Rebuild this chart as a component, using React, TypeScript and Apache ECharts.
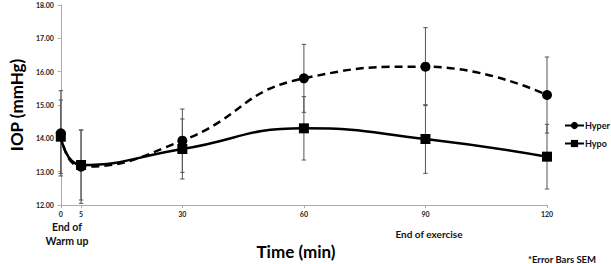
import React, { useEffect, useRef } from "react";
import * as echarts from "echarts";

const times = [0, 5, 30, 60, 90, 120];
const hyperMean = [14.15, 13.15, 13.93, 15.8, 16.15, 15.3];
const hypoMean = [14.05, 13.2, 13.68, 14.3, 13.98, 13.45];
const hyperSem = [1.28, 1.1, 0.95, 1.02, 1.17, 1.14];
const hypoSem = [1.1, 1.05, 0.9, 0.95, 1.03, 0.97];
const xTickValues = [0, 5, 30, 60, 90, 120];

const FONT = "Lato, 'Open Sans', sans-serif";

export default function App() {
  const ref = useRef<HTMLDivElement>(null);
  useEffect(() => {
    if (!ref.current) return;
    const chart = echarts.init(ref.current, null, { renderer: "svg" });
    const errData: number[][] = [];
    times.forEach((t, i) => {
      errData.push([t, hyperMean[i] - hyperSem[i], hyperMean[i] + hyperSem[i]]);
      errData.push([t, hypoMean[i] - hypoSem[i], hypoMean[i] + hypoSem[i]]);
    });
    const renderErr = (params: any, api: any) => {
      const x = api.value(0);
      const lo = api.coord([x, api.value(1)]);
      const hi = api.coord([x, api.value(2)]);
      const w = 2.2;
      const style = { stroke: "#555", lineWidth: 1 };
      return {
        type: "group",
        children: [
          { type: "line", shape: { x1: lo[0], y1: lo[1], x2: hi[0], y2: hi[1] }, style },
          { type: "line", shape: { x1: lo[0] - w, y1: lo[1], x2: lo[0] + w, y2: lo[1] }, style },
          { type: "line", shape: { x1: hi[0] - w, y1: hi[1], x2: hi[0] + w, y2: hi[1] }, style },
        ],
      };
    };
    chart.setOption({
      animation: false,
      backgroundColor: "#fff",
      grid: { left: 45, right: 64, top: 5, bottom: 59 },
      legend: {
        data: ["Hyper", "Hypo"],
        orient: "vertical",
        left: 564,
        top: 121,
        padding: 0,
        itemWidth: 19,
        itemHeight: 9,
        itemGap: 9,
        textStyle: { fontFamily: FONT, fontWeight: "bold", fontSize: 9, color: "#111", padding: [0, 0, 0, -4] },
      },
      xAxis: {
        type: "value",
        min: 0,
        max: 120,
        interval: 5,
        axisLine: { lineStyle: { color: "#aaa", width: 1 } },
        axisTick: { customValues: xTickValues, length: 3, lineStyle: { color: "#aaa" } },
        axisLabel: {
          customValues: xTickValues,
          fontFamily: FONT,
          fontWeight: "bold",
          fontSize: 7,
          color: "#222",
          margin: 5,
        },
        splitLine: { show: false },
      },
      yAxis: {
        type: "value",
        min: 12,
        max: 18,
        interval: 1,
        name: "IOP (mmHg)",
        nameLocation: "middle",
        nameRotate: 90,
        nameGap: 29,
        nameTextStyle: { fontFamily: FONT, fontWeight: "bold", fontSize: 17, color: "#000" },
        axisLine: { show: true, lineStyle: { color: "#aaa", width: 1 } },
        axisTick: { show: true, length: 3, lineStyle: { color: "#aaa" } },
        axisLabel: {
          fontFamily: FONT,
          fontWeight: "bold",
          fontSize: 7,
          color: "#222",
          margin: 7,
          formatter: (v: number) => v.toFixed(2),
        },
        splitLine: { show: false },
      },
      series: [
        {
          name: "err",
          type: "custom",
          renderItem: renderErr,
          data: errData,
          encode: { x: 0, y: [1, 2] },
          z: 1,
          silent: true,
        },
        {
          name: "Hyper",
          type: "line",
          smooth: 0.5,
          data: times.map((t, i) => [t, hyperMean[i]]),
          symbol: "circle",
          symbolSize: 10,
          itemStyle: { color: "#000" },
          lineStyle: { color: "#000", width: 2.5, type: [8, 5] },
          z: 3,
        },
        {
          name: "Hypo",
          type: "line",
          smooth: 0.5,
          data: times.map((t, i) => [t, hypoMean[i]]),
          symbol: "rect",
          symbolSize: 10,
          itemStyle: { color: "#000" },
          lineStyle: { color: "#000", width: 2.5 },
          z: 3,
        },
      ],
      graphic: [
        {
          type: "text",
          x: 67,
          y: 220,
          style: {
            text: "End of\nWarm up",
            fontFamily: FONT,
            fontWeight: "bold",
            fontSize: 10.5,
            lineHeight: 14,
            fill: "#111",
            align: "center",
          },
        },
        {
          type: "text",
          x: 429,
          y: 234,
          style: {
            text: "End of exercise",
            fontFamily: FONT,
            fontWeight: "bold",
            fontSize: 10,
            fill: "#111",
            align: "center",
            verticalAlign: "middle",
          },
        },
        {
          type: "text",
          x: 296,
          y: 251,
          style: {
            text: "Time (min)",
            fontFamily: FONT,
            fontWeight: "bold",
            fontSize: 17,
            fill: "#000",
            align: "center",
            verticalAlign: "middle",
          },
        },
        {
          type: "text",
          x: 562,
          y: 259,
          style: {
            text: "*Error Bars SEM",
            fontFamily: FONT,
            fontWeight: "bold",
            fontSize: 9.5,
            fill: "#111",
            align: "center",
            verticalAlign: "middle",
          },
        },
      ],
    });
    return () => chart.dispose();
  }, []);
  return <div ref={ref} style={{ width: 611, height: 264, position: "absolute", left: 0, top: 0 }} />;
}
